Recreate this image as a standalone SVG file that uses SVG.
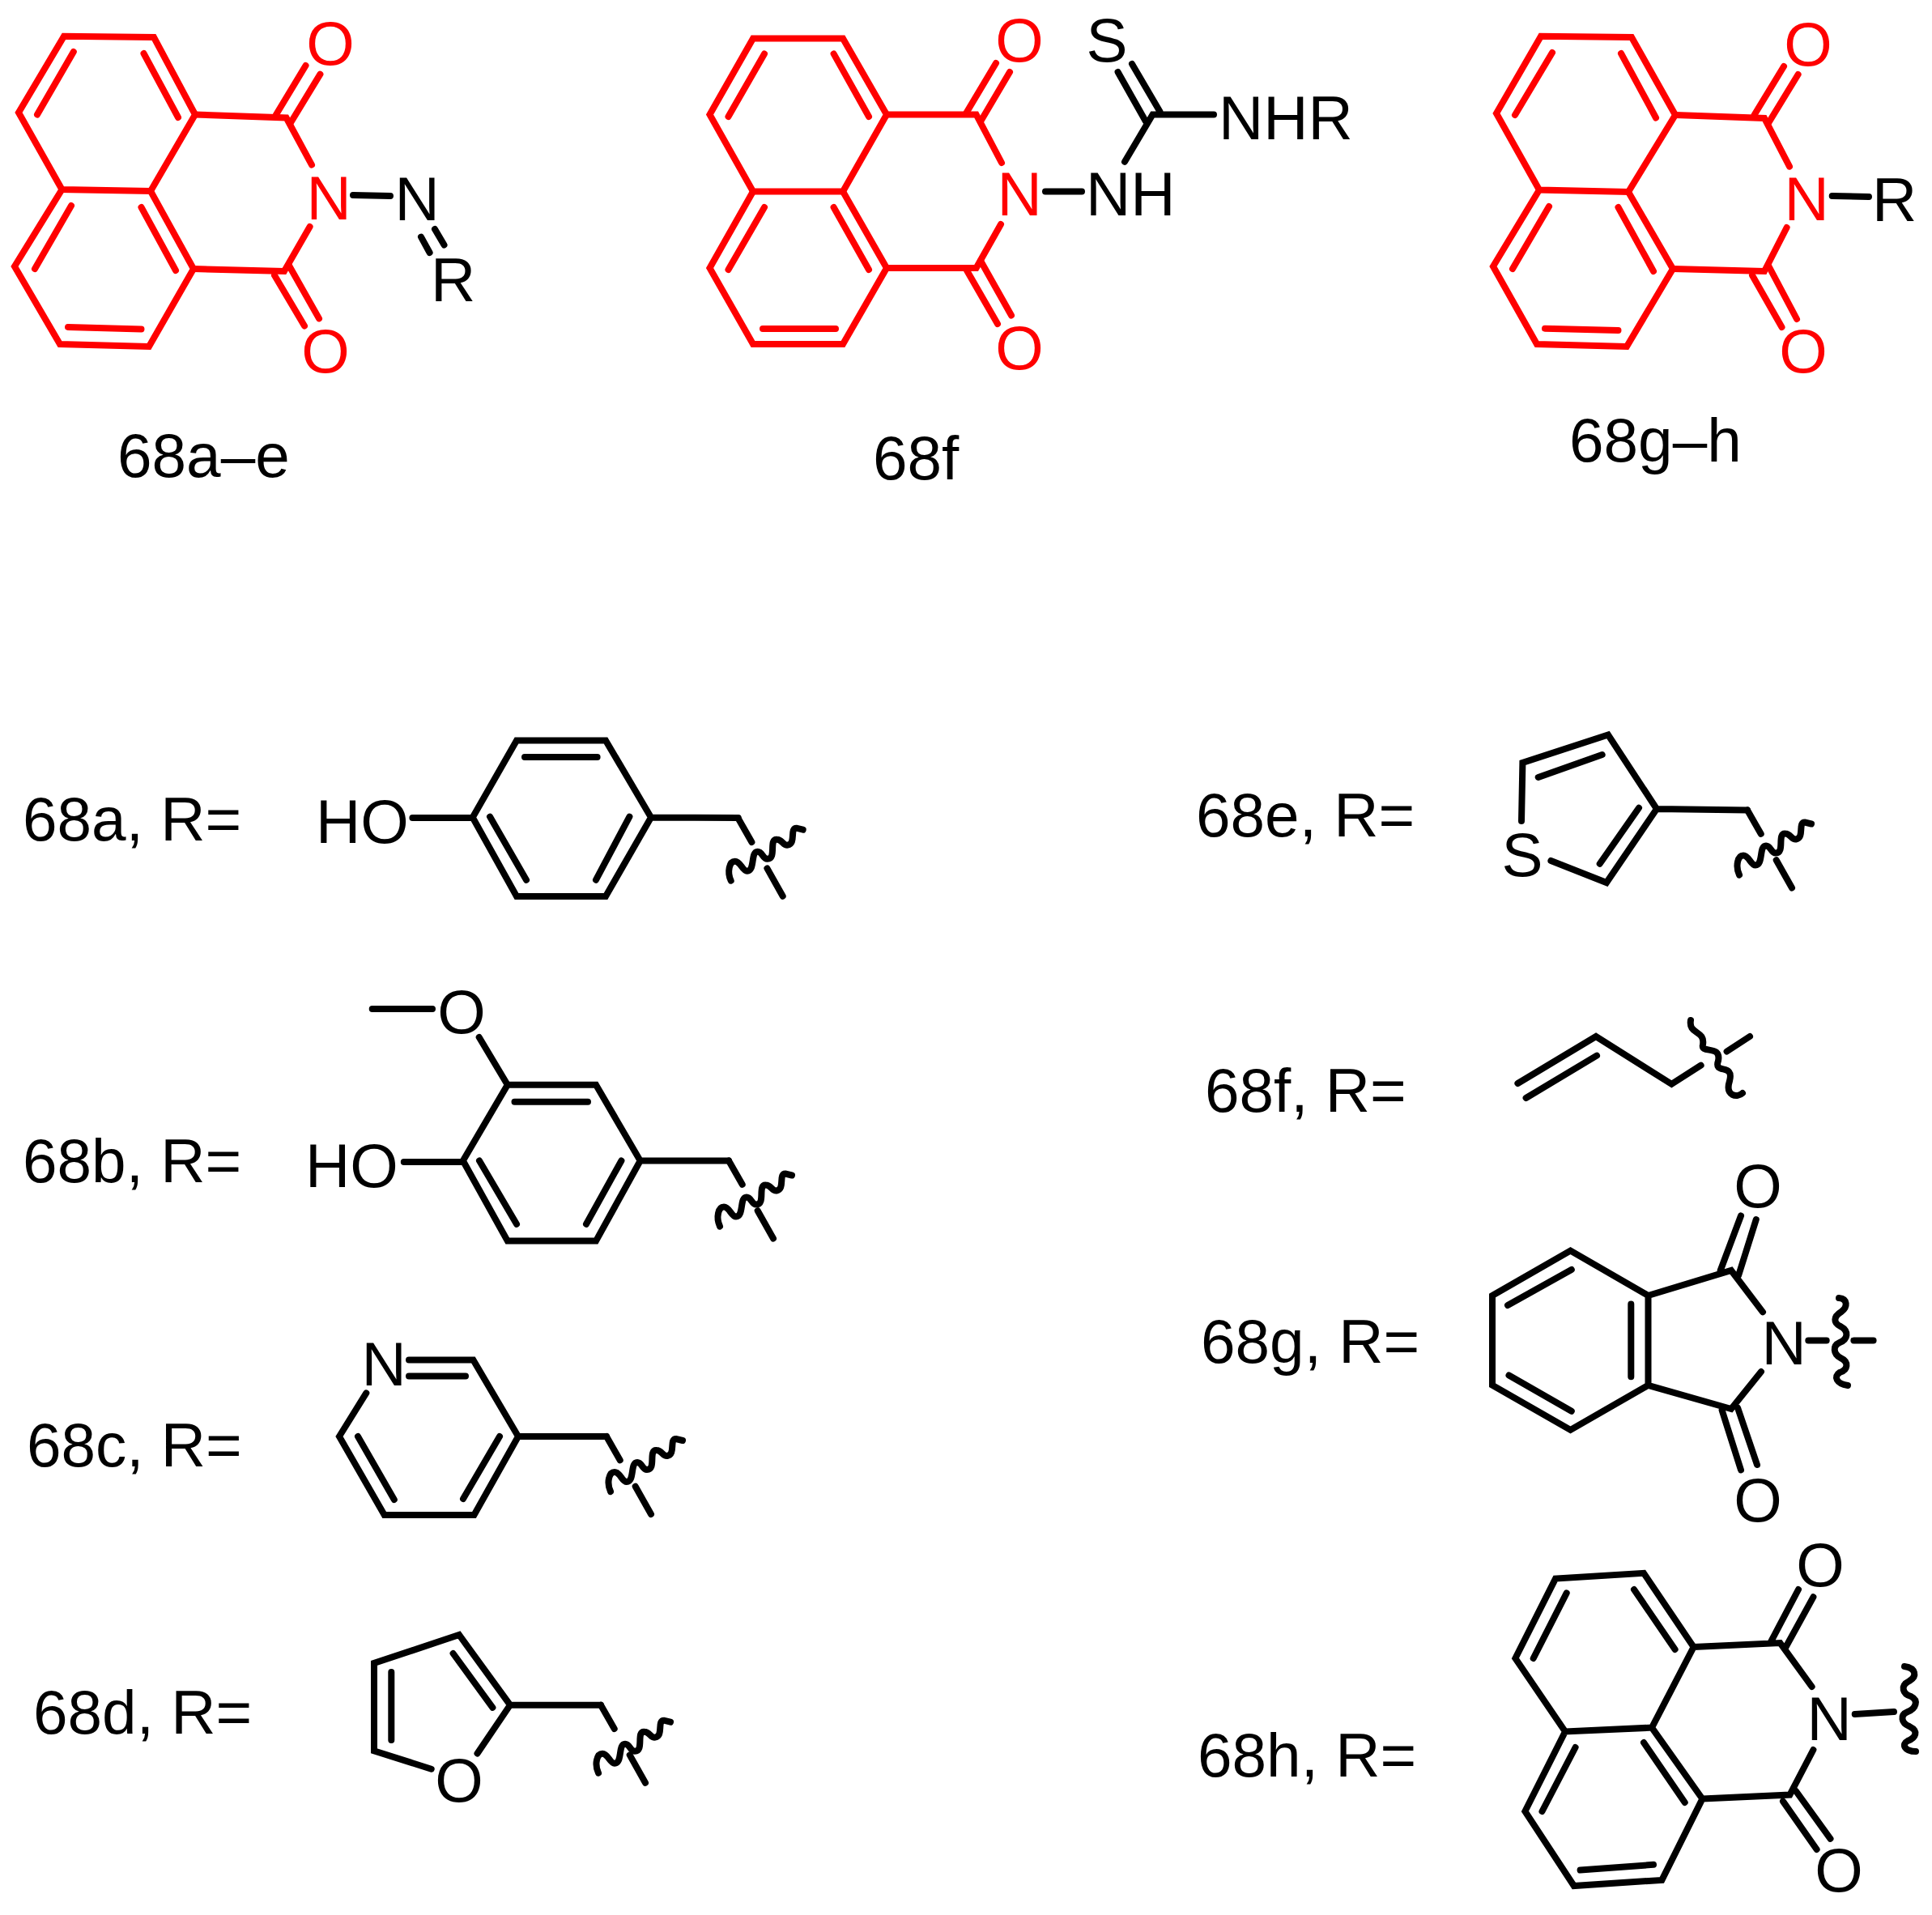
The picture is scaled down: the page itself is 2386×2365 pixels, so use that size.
<svg xmlns="http://www.w3.org/2000/svg" xmlns:xlink="http://www.w3.org/1999/xlink" width="2386" height="2365" viewBox="0 0 2386 2365">
<style>
text{font-family:"Liberation Sans",Arial,sans-serif;font-size:76.5px;fill:#000}
.a{text-anchor:middle}
.r{fill:#f00}
.b{fill:none;stroke:#000;stroke-width:8;stroke-linecap:round;stroke-linejoin:miter}
.rb{stroke:#f00}
</style>
<defs>
<path id="stub" class="b" d="M0,0L16.7,29.3M35.7,61.7L55,96"/>
<path id="wave" class="b" d="M-9,77C-14,66 -11,53 -4,53C3,53 5,65 11,65C21,65 15,41 24,41C30,41 30,50 36,50C48,50 37,25 48,26C54,26 56,34 61,33C72,31 63,12 72,12L80,14"/>
</defs>
<rect width="2386" height="2365" fill="#fff"/>
<g id="connectors">
<g id="bonds-68a-e">
<path class="b rb" d="M23,139L79,44.7L190,46L241,141.5L186,236L76.5,234Z"/>
<path class="b rb" d="M76.5,234L18,329L74,425L184,428L239,332L186,236"/>
<path class="b rb" d="M241,141.5L353.6,145.5L385,203.6M239,332L351,335L382.6,280"/>
<path class="b rb" d="M90.8,64L46,141.5M177.5,66L220,145M88,254L43,332M174.5,256L217,334M84,404L174.5,406.5M377.5,81L341,141.5M395.4,91.7L358.7,152M357,328L394,393.4M339,340L376,402.5"/>
<path class="b" d="M436,241L482,242M520,292.6L530.6,312M537,283L548.5,302.5"/>
</g>
<g id="bonds-68f">
<path class="b rb" d="M876.5,141.5L930,47.4L1041,47.4L1095,141.5L1041,236.5L930,236.5Z"/>
<path class="b rb" d="M930,236.5L876.5,331L930,425L1041,425L1095,331L1041,236.5"/>
<path class="b rb" d="M1095,141.5L1205.6,141.5L1237,201M1095,331L1205.6,331L1236,277"/>
<path class="b rb" d="M944,66.4L899.5,144M1029.6,66.4L1073,144M944,256L899.5,333M1029.6,256L1073,333M942,406L1032,406M1230,78L1193,140M1247,89L1211,150M1211,322L1249,389.5M1194,334L1232,400"/>
<path class="b" d="M1291,236.5L1336,236.5M1389,199.7L1423.5,141.5L1499,141.5M1380.6,89L1415,150M1398,79L1432.6,138"/>
</g>
<g id="bonds-68g-h">
<path class="b rb" d="M1848,140L1903,44.7L2015,46L2069,142L2011,237L1901,234.5Z"/>
<path class="b rb" d="M1901,234.5L1844,329L1898,425L2009,428L2066,332L2011,237"/>
<path class="b rb" d="M2069,142L2179,146L2210,205.6M2066,332L2179,335L2206.6,281"/>
<path class="b rb" d="M1917,65L1871,142M2002,66L2045,145.5M1913,255L1868,332M1998.5,256L2042,335M1908,405.7L1998.5,408M2203,82L2166.5,142M2220.6,92L2184,152M2184,328L2219,394M2164,340L2200.5,404"/>
<path class="b" d="M2262.7,242L2308,243"/>
</g>
<g id="bonds-r-68a">
<path class="b" d="M509.4,1010L583.7,1010M583.7,1009.5L638,914.4L748,914.4L804,1009.5L748,1107L638,1107ZM648,935L737.6,935M605,1008.6L650,1086.7M777.4,1008.6L736,1086.7M804,1009.5L911.7,1010"/>
<use xlink:href="#stub" href="#stub" x="911.7" y="1010.7"/>
<use xlink:href="#wave" href="#wave" x="911.7" y="1010.7"/>
</g>
<g id="bonds-r-68b">
<path class="b" d="M498.8,1435L571.8,1435M571.8,1433.5L626.8,1339.8L736,1339.8L790.7,1433.5L736,1532.6L626.8,1532.6ZM635.5,1360.8L726,1360.8M592,1433.5L638,1511.7M767.4,1433.5L724,1511.7M790.7,1433.5L900,1433.5M459.7,1246L534,1246M591.7,1281L626.8,1339.8"/>
<use xlink:href="#stub" href="#stub" x="900" y="1433.5"/>
<use xlink:href="#wave" href="#wave" x="898" y="1437.5"/>
</g>
<g id="bonds-r-68c">
<path class="b" d="M452.3,1720.4L419,1774L474.7,1871L585.5,1871L640,1774L584.4,1679.4L505,1679.4M505,1699.5L575,1699.5M442,1774L486.8,1852M617,1774L572,1851M640,1774L749,1774"/>
<use xlink:href="#stub" href="#stub" x="749" y="1774"/>
<use xlink:href="#wave" href="#wave" x="763" y="1765"/>
</g>
<g id="bonds-r-68d">
<path class="b" d="M532.7,2184.7L462,2162.4L462,2054L567,2019L630,2105.7L589.5,2165.5M483.3,2065L483.3,2149M559.6,2042L608.4,2108.8M630,2105.7L742,2105.7"/>
<use xlink:href="#stub" href="#stub" x="742" y="2105.7"/>
<use xlink:href="#wave" href="#wave" x="748" y="2112.7"/>
</g>
<g id="bonds-r-68e">
<path class="b" d="M1879,1014L1880.4,942L1986,907.5L2046,999L1984,1090L1915.4,1063M1978.7,932L1899.7,960M2024,997.8L1975.7,1066.7M2046,999L2158,1000.5"/>
<use xlink:href="#stub" href="#stub" x="2158" y="1000.5"/>
<use xlink:href="#wave" href="#wave" x="2157" y="1003.5"/>
</g>
<g id="bonds-r-68f">
<path class="b" d="M1874.4,1338L1971,1280L2064.4,1338.8L2100.6,1315.7M1884.6,1356L1972,1303.6M2132.6,1298.5L2161,1280"/>
<path class="b" d="M2088,1260C2085,1278 2106,1272 2103,1290C2100,1302 2126,1290 2122,1310C2116,1328 2142,1312 2136,1335C2130,1354 2146,1356 2152,1350"/>
</g>
<g id="bonds-r-68g">
<path class="b" d="M1843,1600L1939.5,1544.6L2035.5,1600L2035.5,1710.8L1939.5,1766L1843,1710.8ZM1940.8,1568L1862,1612M1863.5,1698.5L1940.8,1742.8M2014.3,1610.5L2014.3,1700.3M2035.5,1600L2138,1569L2177,1620.3M2035.5,1710.8L2138,1740L2175,1694M2150,1501.5L2124.7,1569M2168.8,1506L2147,1575.4M2126.6,1741.5L2150,1815.4M2146,1738.5L2170,1809M2233.3,1655.4L2255.7,1655.4M2289.4,1655.4L2313.6,1655.4"/>
<path class="b" d="M2271,1603C2282,1604 2282,1614 2274,1620C2264,1626 2264,1634 2273,1638C2284,1644 2282,1654 2272,1658C2263,1662 2264,1672 2273,1677C2284,1682 2282,1692 2272,1695C2264,1700 2268,1709 2282,1711"/>
</g>
<g id="bonds-r-68h">
<path class="b" d="M1871.4,2048L1921,1949.6L2030,1942.8L2091.6,2034L2040,2133.6L1933,2138.5ZM1933,2138.5L1883.4,2237L1943.8,2329L2052.4,2321.9L2102.4,2221.5L2040,2133.6M1934.7,1967.4L1893.7,2048M2018,1963L2068.6,2037M1945.6,2158L1904.5,2237M2030,2152L2080.7,2226M1951.6,2309.6L2042,2302.8M2091.6,2034L2198.4,2029L2237.6,2083M2102.4,2221.5L2210.4,2216.6L2239.4,2161M2221,1963L2187,2027.7M2239.4,1972.3L2205,2035M2218,2212L2260.5,2270.8M2202,2224.6L2243.6,2284M2290.7,2117L2339,2114"/>
<path class="b" d="M2352,2058C2366,2060 2368,2070 2358,2076C2346,2082 2350,2092 2360,2095C2370,2100 2366,2110 2356,2114C2346,2118 2348,2128 2358,2132C2370,2138 2366,2146 2356,2150C2348,2154 2352,2163 2366,2163"/>
</g>
</g>
<g id="node-68a-e">
<text class="a r" x="408" y="80">O</text>
<text class="a r" x="402" y="460">O</text>
<text class="a r" x="406" y="271">N</text>
<text class="a" x="515" y="272">N</text>
<text x="532" y="372">R</text>
<text x="145" y="589">68a–e</text>
</g>
<g id="node-68f">
<text class="a r" x="1259" y="76">O</text>
<text class="a r" x="1259" y="456">O</text>
<text class="a r" x="1259" y="266">N</text>
<text x="1341" y="266">NH</text>
<text class="a" x="1367" y="76">S</text>
<text x="1505" y="172">NHR</text>
<text x="1078" y="592">68f</text>
</g>
<g id="node-68g-h">
<text class="a r" x="2233" y="81">O</text>
<text class="a r" x="2227" y="460">O</text>
<text class="a r" x="2231" y="272">N</text>
<text x="2312" y="273">R</text>
<text x="1938" y="570">68g–h</text>
</g>
<g id="node-r-68a">
<text x="28" y="1038">68a, R=</text>
<text x="390" y="1041">HO</text>
</g>
<g id="node-r-68b">
<text x="28" y="1460">68b, R=</text>
<text x="377" y="1466">HO</text>
<text class="a" x="570" y="1276">O</text>
</g>
<g id="node-r-68c">
<text x="33" y="1811">68c, R=</text>
<text class="a" x="474" y="1711">N</text>
</g>
<g id="node-r-68d">
<text x="41" y="2141">68d, R=</text>
<text class="a" x="567" y="2225">O</text>
</g>
<g id="node-r-68e">
<text x="1477" y="1033">68e, R=</text>
<text class="a" x="1880" y="1082">S</text>
</g>
<g id="node-r-68f">
<text x="1488" y="1373">68f, R=</text>
</g>
<g id="node-r-68g">
<text x="1483" y="1683">68g, R=</text>
<text class="a" x="2171" y="1491">O</text>
<text class="a" x="2171" y="1879">O</text>
<text class="a" x="2203" y="1685">N</text>
</g>
<g id="node-r-68h">
<text x="1479" y="2194">68h, R=</text>
<text class="a" x="2248" y="1959">O</text>
<text class="a" x="2271" y="2336">O</text>
<text class="a" x="2259" y="2149">N</text>
</g>
</svg>
